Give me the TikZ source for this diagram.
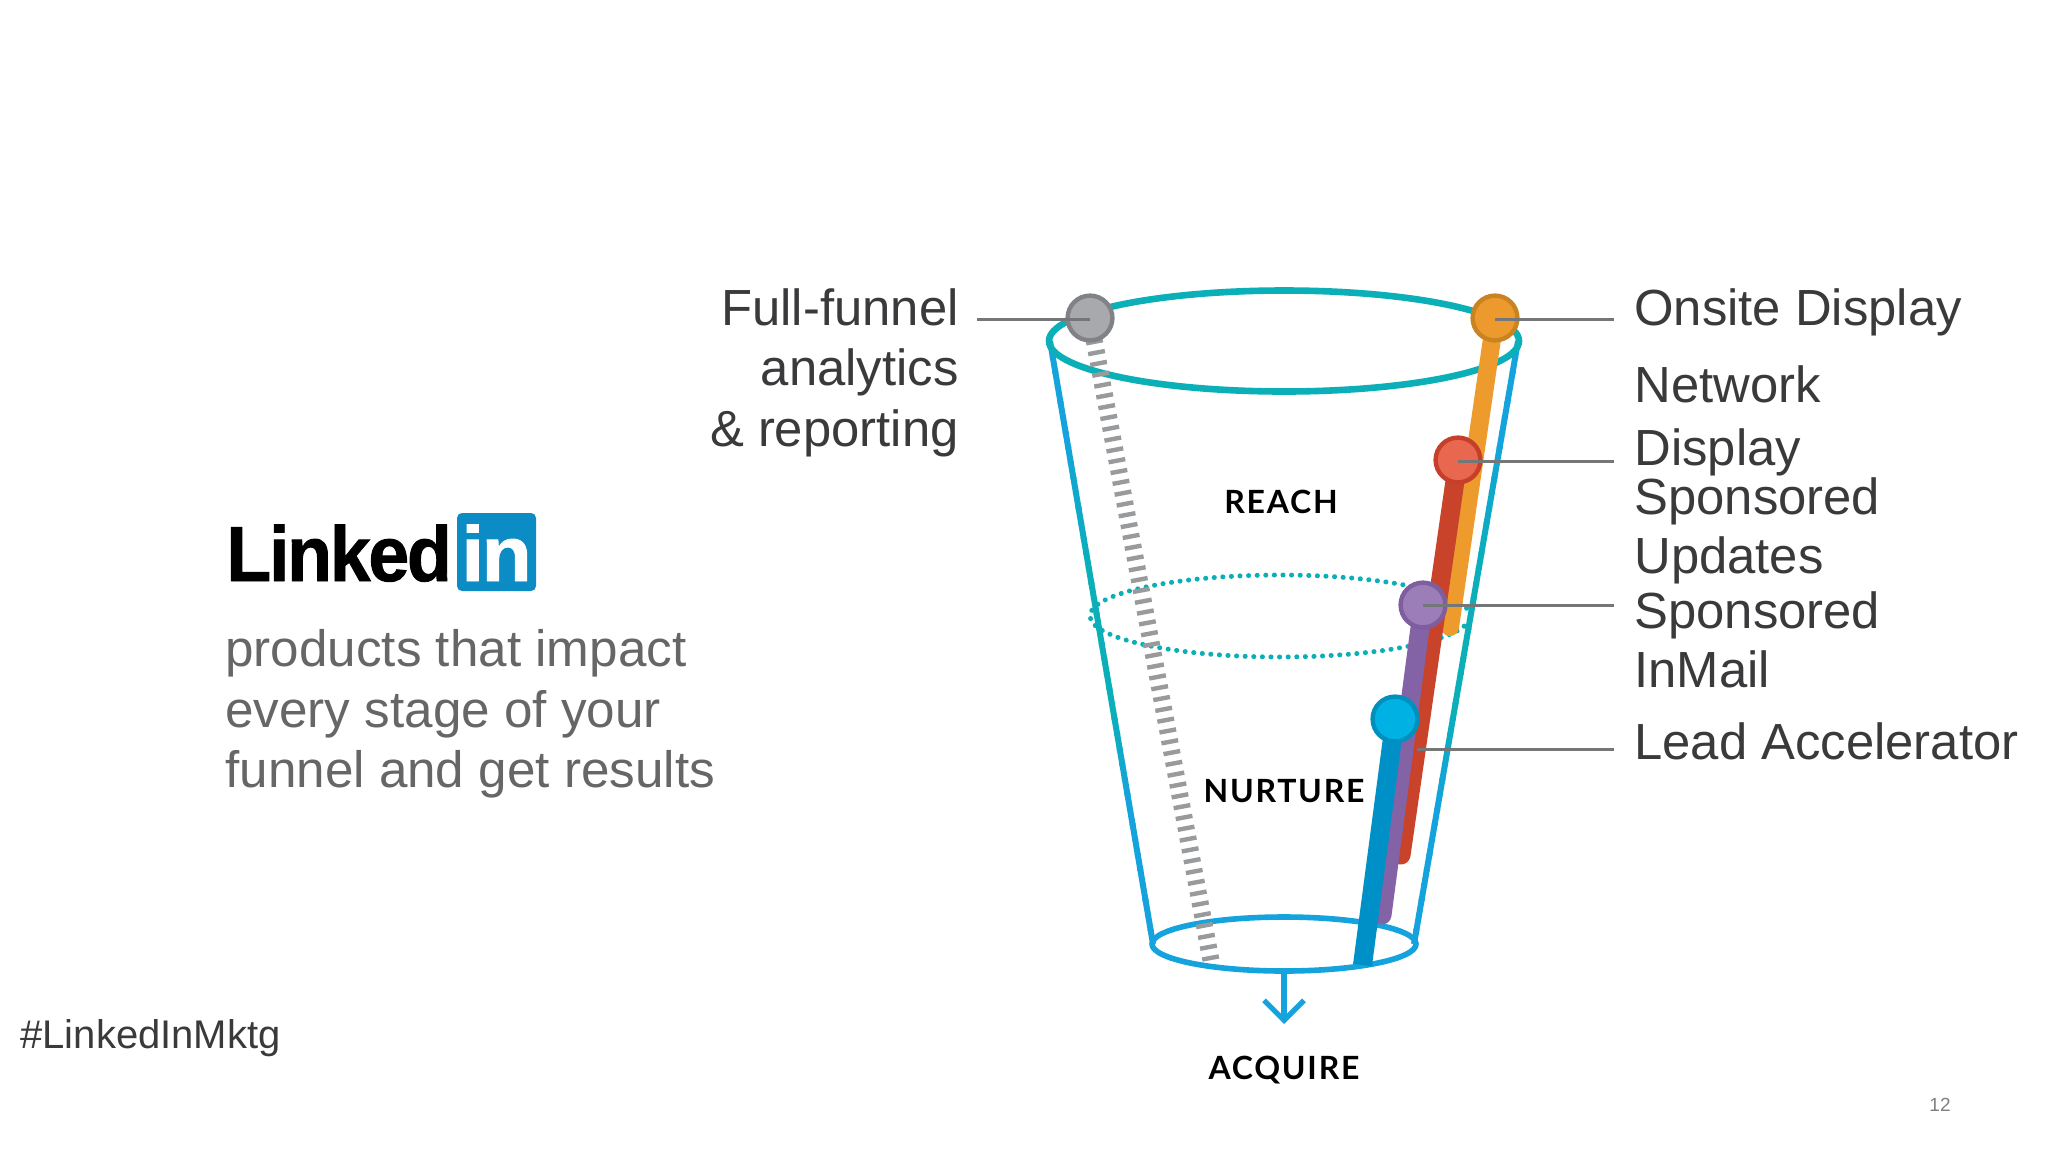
\documentclass[tikz,border=0pt]{standalone}
\usepackage{fontspec}
\setmainfont{Liberation Sans}
\newfontfamily\latofont{Lato}[LetterSpace=5.5]
\newfontfamily\logofont{Liberation Sans Bold}[FakeBold=1.2,LetterSpace=-3]
\usetikzlibrary{shapes.geometric,arrows.meta}
\definecolor{teal1}{HTML}{0AAFB8}
\definecolor{blue1}{HTML}{14A3DC}
\definecolor{labelc}{HTML}{3A3A3C}
\definecolor{subc}{HTML}{666666}
\definecolor{linec}{HTML}{757678}
\definecolor{tickc}{HTML}{999A9C}
\definecolor{gfill}{HTML}{A7A9AC}\definecolor{gline}{HTML}{808285}
\definecolor{ofill}{HTML}{EC9A2E}\definecolor{oline}{HTML}{C98320}
\definecolor{rfill}{HTML}{E8674F}\definecolor{rline}{HTML}{C63F2A}
\definecolor{pfill}{HTML}{9B7DB8}\definecolor{pline}{HTML}{7E5E9E}
\definecolor{cfill}{HTML}{00B2E3}\definecolor{cline}{HTML}{0090BE}
\definecolor{obar}{HTML}{EE9B2D}\definecolor{rbar}{HTML}{C9432A}
\definecolor{pbar}{HTML}{8363A5}\definecolor{bbar}{HTML}{0090C8}
\definecolor{lblue}{HTML}{0C8CC4}
\tikzset{
  ring/.style={ellipse,draw,inner sep=0pt,outer sep=0pt},
  dotcircle/.style={circle,draw,line width=2.2pt,minimum size=22.4pt,inner sep=0pt,outer sep=0pt},
  bar/.style={line width=#1,line cap=round},
  leader/.style={draw=linec,line width=1.5pt},
  biglabel/.style={font=\fontsize{25.4}{30.3}\selectfont,text=labelc,inner sep=0pt,align=left},
  sublabel/.style={font=\fontsize{25.6}{30.3}\selectfont,text=subc,inner sep=0pt,align=left},
  stage/.style={font=\latofont\bfseries\fontsize{16}{19}\selectfont,text=black,inner sep=0pt},
  logotext/.style={inner sep=0pt,font=\logofont\fontsize{39}{44}\selectfont}
}
\begin{document}
\begin{tikzpicture}[x=0.5pt,y=-0.5pt]
\useasboundingbox[fill=white] (0,0) rectangle (2048,1152);
% funnel sides, colour running blue, teal, blue
\foreach \i in {0,...,39}{
  \pgfmathsetmacro{\f}{\i/40}
  \pgfmathsetmacro{\g}{(\i+1.15)/40}
  \pgfmathsetmacro{\p}{max(0,min(100,max(100*(.36-\f)/.21,100*(\f-.6)/.15)))}
  \draw[color=blue1!\p!teal1,line width=3pt] ({1050+103*\f},{341+603*\f}) -- ({1050+103*min(\g,1)},{341+603*min(\g,1)});
  \draw[color=blue1!\p!teal1,line width=3pt] ({1518-104*\f},{341+603*\f}) -- ({1518-104*min(\g,1)},{341+603*min(\g,1)});
}
% rings
\node[ring,draw=teal1,line width=3.3pt,minimum width=235pt,minimum height=50.5pt] (topring) at (1284,341) {};
\node[ring,draw=blue1,line width=2.8pt,minimum width=132pt,minimum height=27pt] (botring) at (1284,944) {};
\node[ring,draw=teal1,line width=2.5pt,dash pattern=on 0.05pt off 4.25pt,line cap=round,minimum width=190pt,minimum height=41pt] (midring) at (1280,616) {};
% circles (named first so bars can start at them)
\path (1090,318) node[dotcircle,draw=none] (gdot) {};
\path (1495,318) node[dotcircle,draw=none] (odot) {};
\path (1458,460) node[dotcircle,draw=none] (rdot) {};
\path (1423,605) node[dotcircle,draw=none] (pdot) {};
\path (1395,719) node[dotcircle,draw=none] (cdot) {};
\coordinate (gend) at (1212,966);
\coordinate (oend) at (1450,627);
\coordinate (rend) at (1401,855);
\coordinate (pend) at (1382,915);
\coordinate (cend) at (1362.5,965);
% bars
\draw[tickc,line width=8.5pt,dash pattern=on 2.2pt off 3.3pt] (gdot.center) -- (gend);
\draw[obar,bar=9pt] (odot.center) -- (oend);
\draw[rbar,bar=9.5pt] (rdot.center) -- (rend);
\draw[pbar,bar=9.5pt] (pdot.center) -- (pend);
\draw[bbar,line width=9.5pt] (cdot.center) -- (cend);
% circles
\node[dotcircle,draw=gline,fill=gfill] at (gdot) {};
\node[dotcircle,draw=oline,fill=ofill] at (odot) {};
\node[dotcircle,draw=rline,fill=rfill] at (rdot) {};
\node[dotcircle,draw=pline,fill=pfill] at (pdot) {};
\node[dotcircle,draw=cline,fill=cfill] at (cdot) {};
% leaders
\coordinate (gfree) at (977,319);
\coordinate (ofree) at (1614,319);
\coordinate (rfree) at (1614,461);
\coordinate (pfree) at (1614,605);
\coordinate (cfree) at (1614,749);
\coordinate (cbar) at (1417,749);
\draw[leader] (gfree) -- (gdot.center |- gfree);
\draw[leader] (odot.center |- ofree) -- (ofree);
\draw[leader] (rdot.center |- rfree) -- (rfree);
\draw[leader] (pdot.center) -- (pfree);
\draw[leader] (cbar) -- (cfree);
% arrow
\coordinate (atip) at (1284,1024);
\draw[blue1,line width=2.6pt,-{Straight Barb[length=10pt,width=20pt,line width=2.6pt]}] (botring.south) -- (atip);
% stage labels
\node[stage] (reach) at (1281,502) {REACH};
\node[stage] (nurture) at (1284,791) {NURTURE};
\node[stage] (acquire) at (1284,1070) {ACQUIRE};
% right labels
\node[biglabel,anchor=west] (l1) at (1634,312) {Onsite Display};
\node[biglabel,anchor=west] (l2) at (1634,421) {Network\\[1.5pt]Display};
\node[biglabel,anchor=west] (l3) at (1634,531) {Sponsored\\[-0.5pt]Updates};
\node[biglabel,anchor=west] (l4) at (1634,640) {Sponsored\\[-0.5pt]InMail};
\node[biglabel,anchor=west] (l5) at (1634,741) {Lead Accelerator};
% left label
\node[biglabel,align=right,anchor=east] (l0) at (959,373) {Full-funnel\\[-0.5pt]analytics\\[0.5pt]\& reporting};
% logo
\node[logotext,anchor=base west,text=black] (lk) at (226,581) {\scalebox{0.94}[1]{Linked}};
\node[fill=lblue,rounded corners=2.5pt,minimum width=39.5pt,minimum height=39pt,inner sep=0pt] (inbox) at (496.5,552) {};
\node[logotext,anchor=base,text=white] (intext) at (496.5,581) {\scalebox{1.05}[1]{in}};
% subtitle
\node[sublabel,anchor=north west] (sub) at (225,629) {products that impact\\every stage of your\\funnel and get results};
\node[anchor=west,inner sep=0pt,font=\fontsize{20}{24}\selectfont,text=labelc] (tag) at (20,1038) {\#LinkedInMktg};
\node[anchor=center,inner sep=0pt,font=\fontsize{9.5}{11}\selectfont,text=gray] (pg) at (1940,1105) {12};
\end{tikzpicture}
\end{document}
